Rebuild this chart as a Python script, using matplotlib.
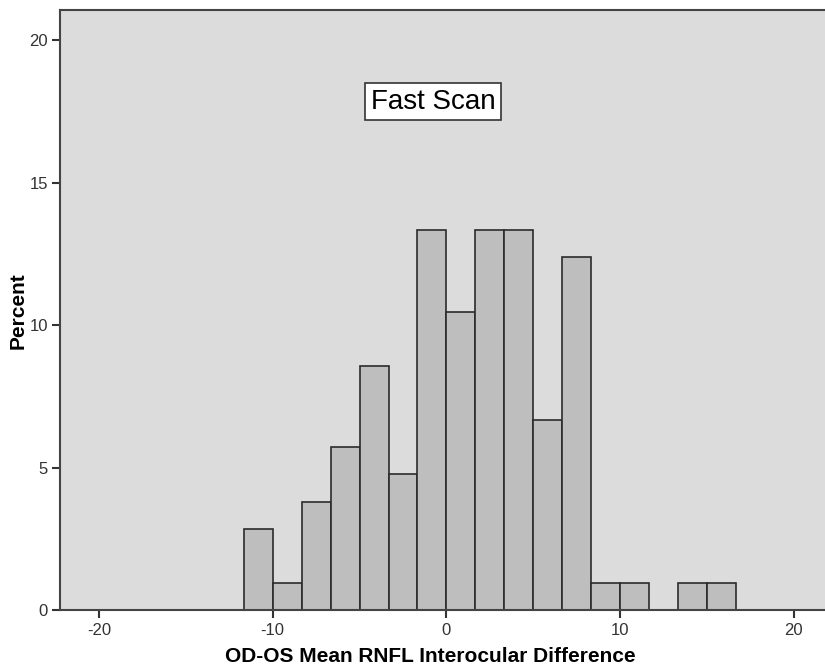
import numpy as np
import matplotlib.pyplot as plt

plt.rcParams['font.family'] = ['Liberation Sans', 'DejaVu Sans']
plt.rcParams['axes.unicode_minus'] = False

bin_edges = [-35/3, -10, -25/3, -20/3, -5, -10/3, -5/3, 0, 5/3, 10/3, 5,
             20/3, 25/3, 10, 35/3, 40/3, 15, 50/3]
percent = [2.86, 0.95, 3.81, 5.71, 8.57, 4.76, 13.33, 10.48, 13.33, 13.33,
           6.67, 12.38, 0.95, 0.95, 0.0, 0.95, 0.95]

fig = plt.figure(figsize=(8.25, 6.68), dpi=100)
ax = fig.add_axes([0.0733, 0.0868, 0.93, 0.8975])
ax.set_facecolor('#dcdcdc')

edges = np.array(bin_edges)
ax.bar(edges[:-1], percent, width=np.diff(edges), align='edge',
       color='#bebebe', edgecolor='#2b2b2b', linewidth=1.2)

ax.set_xlim(-22.22, 21.95)
ax.set_ylim(0, 21.05)
ax.set_xticks([-20, -10, 0, 10, 20])
ax.set_yticks([0, 5, 10, 15, 20])
ax.tick_params(axis='both', direction='out', length=6, width=1.5,
               color='#333333', labelsize=12, labelcolor='#333333', pad=3)

for s in ['left', 'bottom', 'top']:
    ax.spines[s].set_color('#444444')
    ax.spines[s].set_linewidth(1.5)
ax.spines['right'].set_visible(False)

ax.set_xlabel('OD-OS Mean RNFL Interocular Difference', fontsize=15,
              fontweight='bold', labelpad=7)
ax.xaxis.label.set_x(0.482)
ax.set_ylabel('Percent', fontsize=15, fontweight='bold', labelpad=1)

ax.text(-0.77, 17.84, 'Fast Scan', fontsize=20, ha='center', va='center',
        bbox=dict(boxstyle='square,pad=0.2', facecolor='white',
                  edgecolor='#333333', linewidth=1.2))

fig.savefig('out.png', dpi=100)
